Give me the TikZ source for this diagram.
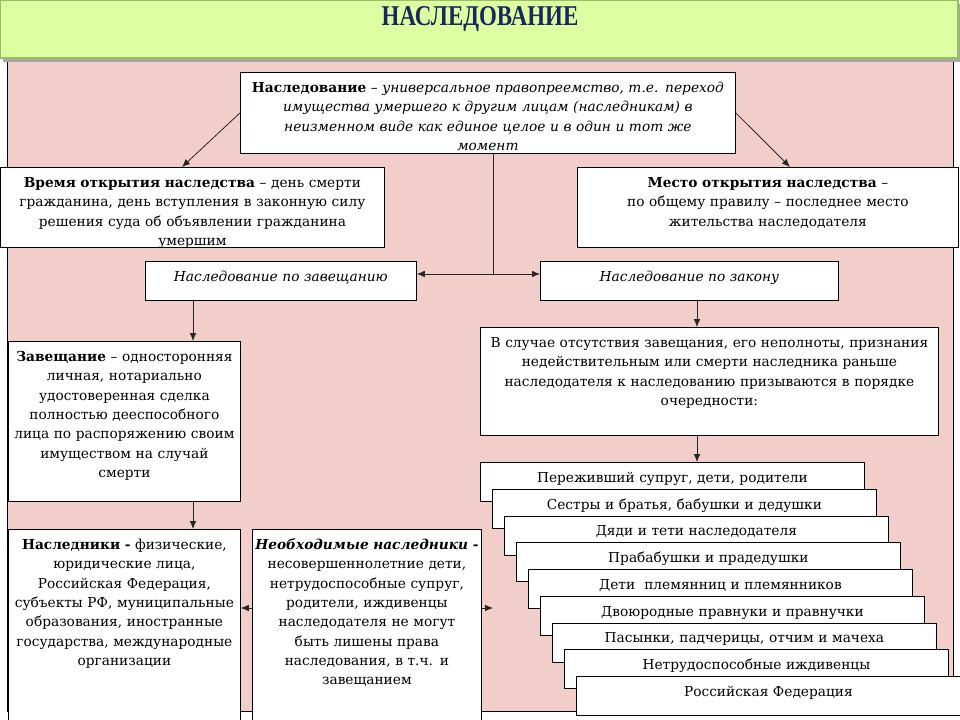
\documentclass[tikz,border=0pt]{standalone}
\usepackage{fontspec}
\setmainfont{DejaVu Serif}
\newfontfamily\titlefont[FakeStretch=0.8]{Liberation Serif}
\usepackage{tikz}
\usetikzlibrary{shapes,arrows,arrows.meta,positioning}
\definecolor{titlegreen}{RGB}{221, 255, 161}
\definecolor{titleedge}{RGB}{150, 190, 100}
\definecolor{titleblue}{RGB}{23, 40, 90}
\definecolor{bgpink}{RGB}{242, 206, 202}

\begin{document}
\begin{tikzpicture}[
    x=0.75pt, y=-0.75pt,
    every node/.style={align=center, font=\fontsize{10.3}{14.5}\selectfont},
    box/.style={rectangle, draw=black, fill=white, line width=0.6pt, anchor=north west, inner xsep=3pt, inner ysep=5pt, text height=10pt},
    order/.style={box, text width=282pt, text depth=9.25pt},
    arrow/.style={-{Latex[length=6pt,width=5pt]}, line width=0.6pt, draw=black!85}
]
\useasboundingbox (0,0) rectangle (960,720);

% Background and title bar
\draw[fill=bgpink, line width=0.6pt] (7,55) rectangle (953,711);
\fill[black!35] (3,4) rectangle (962,62);
\draw[fill=titlegreen, draw=titleedge, line width=1pt] (0,0) rectangle (958,58);
\node[font=\titlefont\bfseries\fontsize{21.5}{22}\selectfont, text=titleblue] (title) at (480,19) {НАСЛЕДОВАНИЕ};

% Definition
\node[box, text width=365.25pt, text depth=40.75pt] (inherit) at (240,72) {\textbf{Наследование} \textit{– универсальное правопреемство, т.е. переход}\\\textit{имущества умершего к другим лицам (наследникам) в}\\\textit{неизменном виде как единое целое и в один и тот же}\\\textit{момент}};

% Time and place
\node[box, text width=282pt, text depth=40pt] (time) at (0,167) {\textbf{Время открытия наследства} – день смерти\\гражданина, день вступления в законную силу\\решения суда об объявлении гражданина\\умершим};

\node[box, text width=279.75pt, text depth=40pt] (place) at (577,167) {\textbf{Место открытия наследства} –\\по общему правилу – последнее место\\жительства наследодателя};

% Two ways
\node[box, text width=197.25pt, text depth=9.25pt] (by_will) at (145,261) {\textit{Наследование по завещанию}};
\node[box, text width=217.5pt, text depth=9.25pt] (by_law) at (540,261) {\textit{Наследование по закону}};

% Testament branch
\node[box, text width=168pt, text depth=100pt] (will) at (8,341) {\textbf{Завещание} – односторонняя\\личная, нотариально\\удостоверенная сделка\\полностью дееспособного\\лица по распоряжению своим\\имуществом на случай\\смерти};

\node[box, text width=168pt, text depth=126pt] (heirs) at (8,529) {\textbf{Наследники -} физические,\\юридические лица,\\Российская Федерация,\\субъекты РФ, муниципальные\\образования, иностранные\\государства, международные\\организации};

\node[box, inner xsep=1pt, text width=169.75pt, text depth=126pt] (necessary) at (252,529) {\mbox{\textbf{\textit{Необходимые наследники -}}}\\несовершеннолетние дети,\\нетрудоспособные супруг,\\родители, иждивенцы\\наследодателя не могут\\быть лишены права\\наследования, в т.ч. и\\завещанием};

% Law branch
\node[box, text width=337.5pt, text depth=61pt] (absent) at (480,327) {В случае отсутствия завещания, его неполноты, признания\\недействительным или смерти наследника раньше\\наследодателя к наследованию призываются в порядке\\очередности:};

% Orders of succession
\foreach \t [count=\i from 0] in {{Переживший супруг, дети, родители}, {Сестры и братья, бабушки и дедушки}, {Дяди и тети наследодателя}, {Прабабушки и прадедушки}, {Дети \ племянниц и племянников}, {Двоюродные правнуки и правнучки}, {Пасынки, падчерицы, отчим и мачеха}, {Нетрудоспособные иждивенцы}, {Российская Федерация}}
    \node[order] (order\i) at (480+12*\i, 462+26.75*\i) {\t};

% Free ends
\coordinate (time_in) at (182,167);
\coordinate (place_in) at (790,167);
\coordinate (split) at (493,274);
\coordinate (order_in) at (493,608);

% Connections
\draw[arrow] (inherit.west) -- (time_in);
\draw[arrow] (inherit.east) -- (place_in);
\draw[line width=0.6pt, draw=black!85] (inherit.south -| split) -- (split);
\draw[arrow] (split) -- (split -| by_will.east);
\draw[arrow] (split) -- (split -| by_law.west);
\draw[arrow] (by_will.south -| 193,0) -- (will.north -| 193,0);
\draw[arrow] (will.south -| 193,0) -- (heirs.north -| 193,0);
\draw[arrow] (by_law.south -| 697,0) -- (absent.north -| 697,0);
\draw[arrow] (absent.south -| 697,0) -- (order0.north -| 697,0);
\draw[arrow] (necessary.west |- order_in) -- (heirs.east |- order_in);
\draw[arrow] (necessary.east |- order_in) -- (order_in);

\end{tikzpicture}
\end{document}
